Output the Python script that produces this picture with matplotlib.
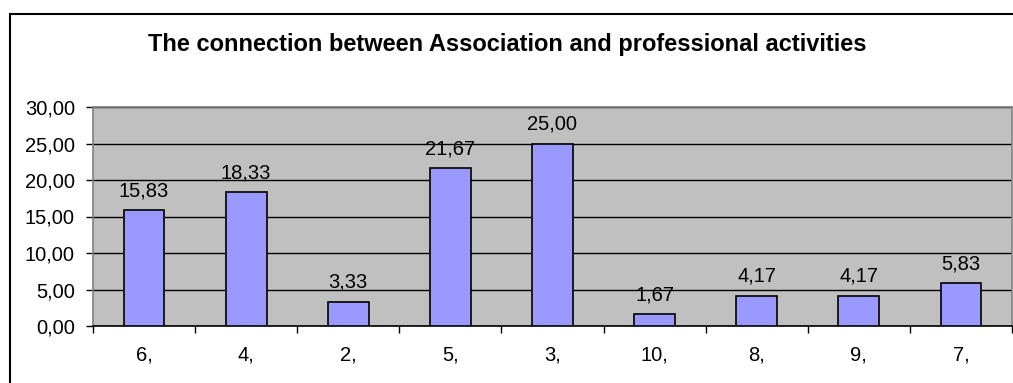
import matplotlib.pyplot as plt
from matplotlib.patches import Rectangle
from matplotlib.ticker import FuncFormatter

categories = ['6,', '4,', '2,', '5,', '3,', '10,', '8,', '9,', '7,']
values = [15.83, 18.33, 3.33, 21.67, 25.00, 1.67, 4.17, 4.17, 5.83]
title = 'The connection between Association and professional activities'

plt.rcParams['font.family'] = ['Liberation Sans', 'DejaVu Sans']


def comma_fmt(v, pos=None):
    return f'{v:.2f}'.replace('.', ',')


def main():
    fig = plt.figure(figsize=(10.13, 3.83), dpi=100)
    ax = fig.add_axes([93 / 1013, 1 - 326 / 383, 919 / 1013, 219 / 383])
    ax.set_facecolor('#C0C0C0')

    x = range(len(categories))
    ax.bar(x, values, width=0.4, color='#9999FF', edgecolor='black', linewidth=1.2, zorder=3)
    for i, v in enumerate(values):
        ax.annotate(comma_fmt(v), (i, v), xytext=(0, 7), textcoords='offset points',
                    ha='center', va='bottom', fontsize=14.5)

    ax.set_xlim(-0.5, len(categories) - 0.5)
    ax.set_ylim(0, 30)
    ax.set_yticks(range(0, 31, 5))
    ax.yaxis.set_major_formatter(FuncFormatter(comma_fmt))
    ax.yaxis.grid(True, color='black', linewidth=1, zorder=1)
    ax.set_axisbelow(True)

    # ticks between categories, labels at the centres
    ax.set_xticks([i - 0.5 for i in range(len(categories) + 1)])
    ax.set_xticklabels([])
    ax.set_xticks(list(x), minor=True)
    ax.set_xticklabels(categories, minor=True, fontsize=14.5)
    ax.tick_params(axis='x', which='major', length=5, width=1, color='black', direction='out')
    ax.tick_params(axis='x', which='minor', length=0, pad=14)
    ax.tick_params(axis='y', length=5, width=1, color='black', labelsize=14.5, pad=8)

    for side in ['left', 'right', 'top']:
        ax.spines[side].set_color('#808080')
        ax.spines[side].set_linewidth(1.2)
    ax.spines['bottom'].set_color('black')
    ax.spines['bottom'].set_linewidth(1.2)

    fig.text(507 / 1013, 1 - 45 / 383, title, ha='center', va='center',
             fontsize=17, fontweight='bold')

    fig.patches.append(Rectangle((9.5 / 1013, -0.1), 1.2, 1 - 13.5 / 383 + 0.1,
                                 transform=fig.transFigure, fill=False,
                                 edgecolor='black', linewidth=1.5))

    fig.savefig('out.png', dpi=100)


if __name__ == '__main__':
    main()
